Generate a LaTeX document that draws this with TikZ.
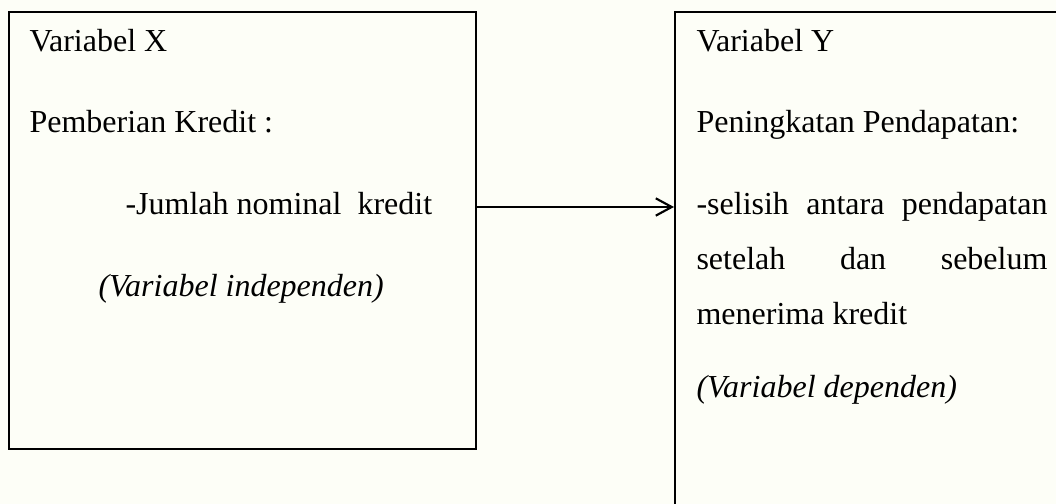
\documentclass[tikz,border=0pt]{standalone}
\usepackage{fontspec}
\setmainfont{Liberation Serif}
\usetikzlibrary{arrows.meta,positioning}

\definecolor{paper}{RGB}{253,254,247}

\begin{document}
\begin{tikzpicture}[
  x=0.375pt, y=-0.375pt,
  >={Straight Barb[length=6pt,width=6.5pt]},
  every node/.style={font=\fontsize{12pt}{14pt}\selectfont},
  varbox/.style={draw, line width=0.8pt, inner sep=0pt, anchor=north west},
  txt/.style={anchor=base west, inner sep=0pt}
]
  \path[use as bounding box, fill=paper] (0,0) rectangle (1056,504);

  % the two variable boxes
  \node[varbox, minimum width=175.1pt, minimum height=163.9pt] (boxX) at (8,11) {};
  \node[varbox, minimum width=157.5pt, minimum height=195pt] (boxY) at (674,11) {};

  % variable X
  \node[txt] (xTitle) at (29,52) {Variabel X};
  \node[txt] (xName)  at (29,133) {Pemberian Kredit :};
  \node[txt] (xInd)   at (125,215) {-Jumlah nominal\ \ kredit};
  \node[txt] (xType)  at (98,297) {\itshape (Variabel independen)};

  % variable Y
  \node[txt] (yTitle) at (696,52) {Variabel Y};
  \node[txt] (yName)  at (696,133) {Peningkatan Pendapatan:};
  \node[txt] (yInd1)  at (696,215) {\makebox[131.6pt][s]{-selisih antara pendapatan}};
  \node[txt] (yInd2)  at (696,270) {\makebox[131.6pt][s]{setelah dan sebelum}};
  \node[txt] (yInd3)  at (696,325) {menerima kredit};
  \node[txt] (yType)  at (696,398) {\itshape (Variabel dependen)};

  \coordinate (arrowlevel) at (0,207);
  \draw[->, line width=0.8pt] (boxX.east |- arrowlevel) -- (boxY.west |- arrowlevel);
\end{tikzpicture}
\end{document}
